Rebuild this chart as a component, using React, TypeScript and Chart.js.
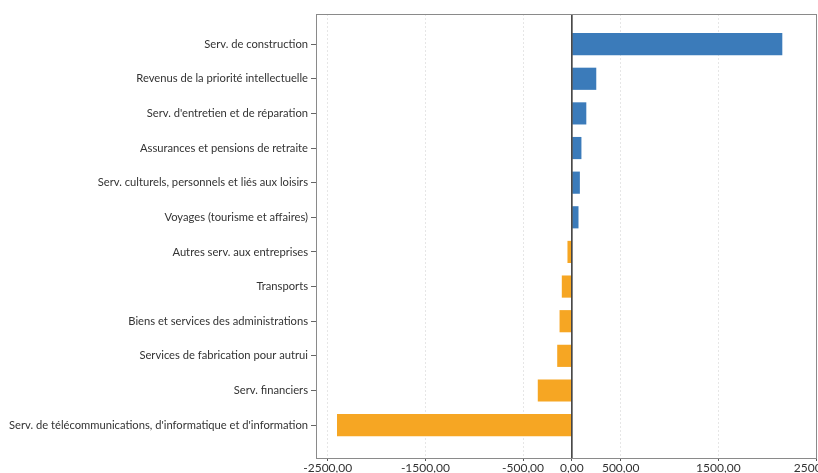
import React, { useEffect, useRef } from "react";
import { Chart, registerables } from "chart.js";

Chart.register(...registerables);

const categories: string[] = [
  "Serv. de construction",
  "Revenus de la priorité intellectuelle",
  "Serv. d'entretien et de réparation",
  "Assurances et pensions de retraite",
  "Serv. culturels, personnels et liés aux loisirs",
  "Voyages (tourisme et affaires)",
  "Autres serv. aux entreprises",
  "Transports",
  "Biens et services des administrations",
  "Services de fabrication pour autrui",
  "Serv. financiers",
  "Serv. de télécommunications, d'informatique et d'information",
];

const values: number[] = [2155, 250, 148, 98, 82, 68, -45, -103, -126, -150, -349, -2405];

const xTickValues: number[] = [-2500, -1500, -500, 0, 500, 1500, 2500];

const positiveColor = "#3b7bba";
const negativeColor = "#f6a623";
const FONT = "Lato, 'Noto Sans', sans-serif";

const framePlugin = {
  id: "frame",
  afterDatasetsDraw(chart: any) {
    const { ctx, chartArea } = chart;
    const x0 = chart.scales.x.getPixelForValue(0);
    ctx.save();
    ctx.strokeStyle = "#333";
    ctx.lineWidth = 1.5;
    ctx.beginPath();
    ctx.moveTo(x0, chartArea.top);
    ctx.lineTo(x0, chartArea.bottom);
    ctx.stroke();
    ctx.strokeStyle = "#8a8a8a";
    ctx.lineWidth = 1;
    ctx.strokeRect(
      Math.round(chartArea.left) + 0.5,
      Math.round(chartArea.top) + 0.5,
      Math.round(chartArea.right - chartArea.left),
      Math.round(chartArea.bottom - chartArea.top)
    );
    ctx.restore();
  },
};

export default function App() {
  const canvasRef = useRef<HTMLCanvasElement | null>(null);

  useEffect(() => {
    if (!canvasRef.current) return;
    const chart = new Chart(canvasRef.current, {
      type: "bar",
      data: {
        datasets: [
          {
            data: values.map((v, i) => ({ x: v, y: i })) as any,
            backgroundColor: values.map((v) => (v >= 0 ? positiveColor : negativeColor)),
            borderWidth: 0,
            categoryPercentage: 1,
            barPercentage: 0.64,
          },
        ],
      },
      options: {
        indexAxis: "y",
        animation: false,
        responsive: false,
        maintainAspectRatio: false,
        layout: { padding: { top: 14, right: 2, left: 0, bottom: 0 } },
        plugins: {
          legend: { display: false },
          tooltip: { enabled: false },
        },
        scales: {
          x: {
            type: "linear",
            min: -2620,
            max: 2500,
            offset: false,
            afterBuildTicks: (scale: any) => {
              scale.ticks = xTickValues.map((v) => ({ value: v }));
            },
            afterFit: (scale: any) => {
              scale.height = 15;
              scale.paddingLeft = 0;
              scale.paddingRight = 0;
            },
            ticks: {
              autoSkip: false,
              maxRotation: 0,
              padding: 0,
              color: "#333",
              font: { family: FONT, size: 12 },
              callback: (v: any) => Number(v).toFixed(2).replace(".", ","),
            },
            grid: {
              offset: false,
              color: (ctx: any) => (ctx.tick && ctx.tick.value === 0 ? "rgba(0,0,0,0)" : "#e6e6e6"),
              tickColor: "#555",
              tickLength: 3,
              lineWidth: 1,
            },
            border: { display: false, dash: [2, 2] },
          },
          y: {
            type: "linear",
            min: -0.87,
            max: 11.95,
            reverse: true,
            offset: false,
            afterBuildTicks: (scale: any) => {
              scale.ticks = categories.map((_, i) => ({ value: i }));
            },
            afterFit: (scale: any) => {
              scale.width = 316;
            },
            ticks: {
              autoSkip: false,
              padding: 3,
              color: "#333",
              font: { family: FONT, size: 11.2 },
              callback: (v: any) => categories[Math.round(Number(v))] ?? "",
            },
            grid: {
              offset: false,
              drawOnChartArea: false,
              tickColor: "#666",
              tickLength: 5,
            },
            border: { display: false },
          },
        },
      },
      plugins: [framePlugin],
    });
    return () => chart.destroy();
  }, []);

  return (
    <div
      style={{
        position: "fixed",
        left: 0,
        top: 0,
        width: 818,
        height: 473,
        overflow: "hidden",
        background: "#fff",
      }}
    >
      <canvas ref={canvasRef} width={818} height={473} style={{ width: 818, height: 473 }} />
    </div>
  );
}
